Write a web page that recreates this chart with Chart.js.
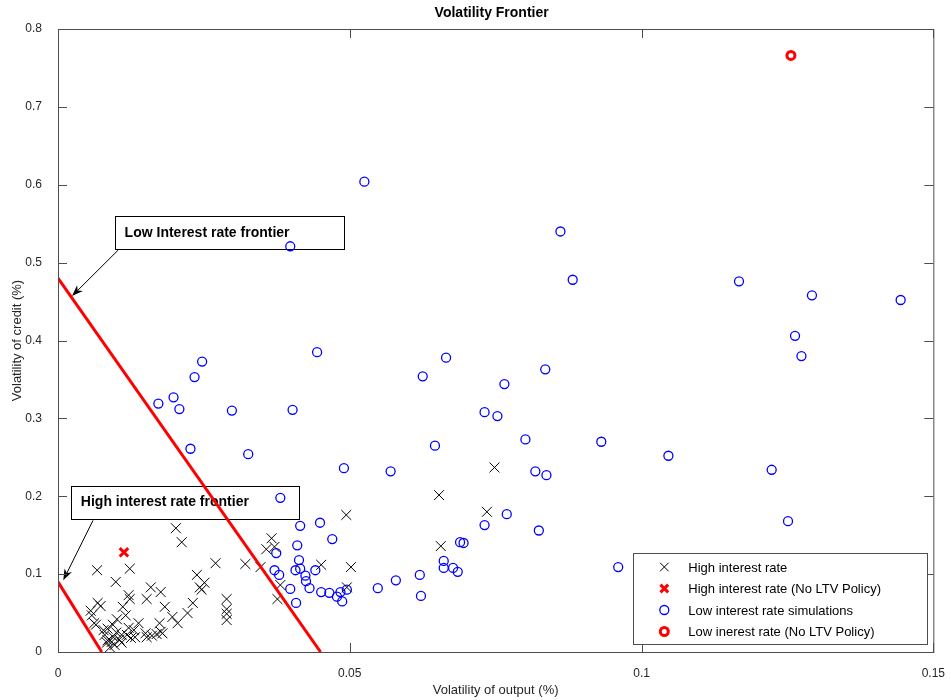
<!DOCTYPE html>
<html>
<head>
<meta charset="utf-8">
<script src="https://cdn.jsdelivr.net/npm/chart.js@4.4.0/dist/chart.umd.min.js"></script>
<style>
   html, body { margin: 0; padding: 0; background: #fff; }
</style>
</head>
<body>
<canvas id="chart" width="951" height="700"></canvas>
<script>

// high interest rate simulations (black x)
const highRateX = [0.0202, 0.0212, 0.0067, 0.0123, 0.0270, 0.0321, 0.0347, 0.0099, 0.0238, 0.0159,
   0.0176, 0.0251, 0.0243, 0.0246, 0.0121, 0.0123, 0.0152, 0.0068, 0.0073, 0.0111,
   0.0183, 0.0231, 0.0222, 0.0289, 0.0289, 0.0289, 0.0289, 0.0056, 0.0058, 0.0116,
   0.0062, 0.0065, 0.0101, 0.0138, 0.0174, 0.0196, 0.0205, 0.0094, 0.0085, 0.0121,
   0.0176, 0.0109, 0.0080, 0.0085, 0.0092, 0.0084, 0.0097, 0.0089, 0.0109, 0.0118,
   0.0125, 0.0132, 0.0152, 0.0161, 0.0169, 0.0179, 0.0357, 0.0366, 0.0371, 0.0381,
   0.0376, 0.0451, 0.0502, 0.0495, 0.0494, 0.0653, 0.0656, 0.0735, 0.0748, 0.0100,
   0.0078, 0.0130, 0.0150, 0.0095, 0.0105];
const highRateY = [0.159, 0.141, 0.105, 0.107, 0.114, 0.113, 0.109, 0.090, 0.099, 0.083,
   0.077, 0.089, 0.083, 0.080, 0.073, 0.068, 0.068, 0.063, 0.059, 0.058,
   0.058, 0.063, 0.050, 0.068, 0.055, 0.049, 0.041, 0.053, 0.047, 0.047,
   0.037, 0.035, 0.042, 0.037, 0.037, 0.045, 0.037, 0.035, 0.030, 0.031,
   0.026, 0.022, 0.022, 0.015, 0.013, 0.012, 0.009, 0.006, 0.012, 0.022,
   0.018, 0.019, 0.019, 0.021, 0.023, 0.024, 0.132, 0.146, 0.135, 0.086,
   0.068, 0.112, 0.109, 0.083, 0.176, 0.2015, 0.136, 0.180, 0.237, 0.025,
   0.028, 0.028, 0.024, 0.019, 0.016];

// high interest rate, no LTV policy (red x)
const highNoLtvX = [0.0113];
const highNoLtvY = [0.128];

// low interest rate simulations (blue circles)
const lowRateX = [0.0398, 0.0525, 0.0861, 0.0882, 0.1167, 0.1292, 0.1444, 0.1263, 0.1274, 0.0444,
   0.0247, 0.0234, 0.0198, 0.0208, 0.0172, 0.0298, 0.0402, 0.0227, 0.0326, 0.0625,
   0.0665, 0.0765, 0.0835, 0.0731, 0.0753, 0.0801, 0.0646, 0.0931, 0.1046, 0.1223,
   0.0570, 0.0490, 0.0818, 0.0837, 0.0769, 0.0824, 0.0731, 0.1251, 0.0960, 0.0381,
   0.0415, 0.0449, 0.0470, 0.0410, 0.0374, 0.0413, 0.0371, 0.0379, 0.0407, 0.0415,
   0.0424, 0.0425, 0.0441, 0.0431, 0.0398, 0.0451, 0.0465, 0.0478, 0.0487, 0.0495,
   0.0484, 0.0408, 0.0548, 0.0579, 0.0620, 0.0622, 0.0661, 0.0661, 0.0677, 0.0685,
   0.0689, 0.0695];
const lowRateY = [0.521, 0.604, 0.540, 0.478, 0.476, 0.458, 0.452, 0.406, 0.380, 0.385,
   0.373, 0.353, 0.327, 0.312, 0.319, 0.310, 0.311, 0.261, 0.254, 0.354,
   0.378, 0.344, 0.363, 0.308, 0.303, 0.273, 0.265, 0.270, 0.252, 0.234,
   0.232, 0.236, 0.232, 0.227, 0.177, 0.156, 0.163, 0.168, 0.109, 0.198,
   0.162, 0.166, 0.145, 0.137, 0.127, 0.118, 0.105, 0.099, 0.105, 0.107,
   0.098, 0.091, 0.105, 0.082, 0.081, 0.077, 0.076, 0.071, 0.065, 0.080,
   0.077, 0.063, 0.082, 0.092, 0.099, 0.072, 0.117, 0.108, 0.108, 0.103,
   0.141, 0.140];

// low interest rate, no LTV policy (red circle)
const lowNoLtvX = [0.1256];
const lowNoLtvY = [0.766];

// frontier lines (end points)
const lowFrontierX = [0, 0.045];
const lowFrontierY = [0.48, 0];
const highFrontierX = [0, 0.0075];
const highFrontierY = [0.09, 0];

const xTicks = [0, 0.05, 0.1, 0.15];
const yTicks = [0, 0.1, 0.2, 0.3, 0.4, 0.5, 0.6, 0.7, 0.8];

const FONT = '"Liberation Sans", Arial, sans-serif';

function toPoints(xs, ys) {
   var pts = [];
   for (var i = 0; i < xs.length; i++) {
      pts.push({ x: xs[i], y: ys[i] });
   }
   return pts;
}

// text boxes with arrows, given in data units
const notes = [
   { text: 'Low Interest rate frontier', box: [0.0097, 0.560, 0.0489, 0.517], from: [0.0103, 0.516], to: [0.0024, 0.457] },
   { text: 'High interest rate frontier', box: [0.0022, 0.213, 0.0413, 0.171], from: [0.0060, 0.169], to: [0.0009, 0.092] }
];

const frame = {
   id: 'frame',
   beforeDatasetsDraw(chart) {
      const { ctx, scales: { x, y } } = chart;
      ctx.save();
      ctx.textBaseline = 'middle';
      notes.forEach(function (n) {
         const l = x.getPixelForValue(n.box[0]), t = y.getPixelForValue(n.box[1]);
         const r = x.getPixelForValue(n.box[2]), b = y.getPixelForValue(n.box[3]);
         ctx.fillStyle = '#fff';
         ctx.fillRect(l, t, r - l, b - t);
         ctx.strokeStyle = '#000';
         ctx.lineWidth = 1;
         ctx.strokeRect(Math.round(l) + 0.5, Math.round(t) + 0.5, Math.round(r - l), Math.round(b - t));
         ctx.fillStyle = '#000';
         ctx.font = 'bold 14px ' + FONT;
         ctx.textAlign = 'left';
         ctx.fillText(n.text, l + 10, (t + b) / 2);

         const x0 = x.getPixelForValue(n.from[0]), y0 = y.getPixelForValue(n.from[1]);
         const x1 = x.getPixelForValue(n.to[0]), y1 = y.getPixelForValue(n.to[1]);
         const ang = Math.atan2(y1 - y0, x1 - x0);
         ctx.beginPath();
         ctx.moveTo(x0, y0);
         ctx.lineTo(x1 - 8 * Math.cos(ang), y1 - 8 * Math.sin(ang));
         ctx.stroke();
         ctx.beginPath();
         ctx.moveTo(x1, y1);
         ctx.lineTo(x1 - 12 * Math.cos(ang - 0.35), y1 - 12 * Math.sin(ang - 0.35));
         ctx.lineTo(x1 - 8 * Math.cos(ang), y1 - 8 * Math.sin(ang));
         ctx.lineTo(x1 - 12 * Math.cos(ang + 0.35), y1 - 12 * Math.sin(ang + 0.35));
         ctx.closePath();
         ctx.fill();
      });
      ctx.restore();
   },
   afterDatasetsDraw(chart) {
      const { ctx, chartArea: a, scales: { x, y } } = chart;
      ctx.save();
      ctx.strokeStyle = '#4d4d4d';
      ctx.lineWidth = 1;
      ctx.strokeRect(a.left + 0.5, a.top + 0.5, a.width, a.height);
      ctx.beginPath();
      x.ticks.forEach(function (t) {
         const px = Math.round(x.getPixelForValue(t.value)) + 0.5;
         ctx.moveTo(px, a.bottom); ctx.lineTo(px, a.bottom - 9);
         ctx.moveTo(px, a.top); ctx.lineTo(px, a.top + 9);
      });
      y.ticks.forEach(function (t) {
         const py = Math.round(y.getPixelForValue(t.value)) + 0.5;
         ctx.moveTo(a.left, py); ctx.lineTo(a.left + 9, py);
         ctx.moveTo(a.right, py); ctx.lineTo(a.right - 9, py);
      });
      ctx.stroke();

      // title over the plot area
      ctx.fillStyle = '#000';
      ctx.font = 'bold 14px ' + FONT;
      ctx.textAlign = 'center';
      ctx.textBaseline = 'middle';
      ctx.fillText('Volatility Frontier', (a.left + a.right) / 2 - 4, 13);
      ctx.restore();
   },
   afterDraw(chart) {
      // legend box in the lower right corner
      const { ctx, chartArea: a } = chart;
      const items = chart.data.datasets.filter(function (d) { return d.inLegend; });
      const w = 294, h = 91;
      const left = a.right - 6 - w, top = a.bottom - 8 - h;
      ctx.save();
      ctx.fillStyle = '#fff';
      ctx.fillRect(left, top, w, h);
      ctx.strokeStyle = '#4d4d4d';
      ctx.lineWidth = 1;
      ctx.strokeRect(Math.round(left) + 0.5, Math.round(top) + 0.5, w, h);
      ctx.font = '13px ' + FONT;
      ctx.textBaseline = 'middle';
      ctx.textAlign = 'left';
      items.forEach(function (d, i) {
         const cy = top + 14 + i * 21.5;
         ctx.strokeStyle = d.borderColor;
         ctx.fillStyle = d.backgroundColor;
         ctx.lineWidth = d.borderWidth;
         Chart.helpers.drawPoint(ctx, { pointStyle: d.pointStyle, radius: d.legendRadius, borderWidth: d.borderWidth, rotation: 0 }, left + 31, cy);
         ctx.fillStyle = '#000';
         ctx.fillText(d.label, left + 55, cy + 1);
      });
      ctx.restore();
   }
};

const config = {
   type: 'scatter',
   data: {
      datasets: [{
         type: 'line',
         data: toPoints(lowFrontierX, lowFrontierY),
         borderColor: '#ff0000',
         borderWidth: 3,
         pointRadius: 0,
         fill: false
      }, {
         type: 'line',
         data: toPoints(highFrontierX, highFrontierY),
         borderColor: '#ff0000',
         borderWidth: 3,
         pointRadius: 0,
         fill: false
      }, {
         label: 'High interest rate',
         inLegend: true,
         legendRadius: 6,
         data: toPoints(highRateX, highRateY),
         pointStyle: 'crossRot',
         pointRadius: 7,
         borderWidth: 1,
         borderColor: '#000000',
         backgroundColor: '#000000'
      }, {
         label: 'High interest rate (No LTV Policy)',
         inLegend: true,
         legendRadius: 5.5,
         data: toPoints(highNoLtvX, highNoLtvY),
         pointStyle: 'crossRot',
         pointRadius: 6,
         borderWidth: 3,
         borderColor: '#ff0000',
         backgroundColor: '#ff0000'
      }, {
         label: 'Low interest rate simulations',
         inLegend: true,
         legendRadius: 4.5,
         data: toPoints(lowRateX, lowRateY),
         pointStyle: 'circle',
         pointRadius: 4.5,
         borderWidth: 1.3,
         borderColor: '#0000ff',
         backgroundColor: 'rgba(0,0,0,0)'
      }, {
         label: 'Low inerest rate (No LTV Policy)',
         inLegend: true,
         legendRadius: 4,
         data: toPoints(lowNoLtvX, lowNoLtvY),
         pointStyle: 'circle',
         pointRadius: 4,
         borderWidth: 3,
         borderColor: '#ff0000',
         backgroundColor: 'rgba(0,0,0,0)'
      }]
   },
   options: {
      responsive: false,
      animation: false,
      layout: { padding: { top: 29, right: 15, left: 0, bottom: 0 } },
      plugins: {
         legend: { display: false },
         title: { display: false },
         tooltip: { enabled: false }
      },
      scales: {
         x: {
            type: 'linear',
            min: 0,
            max: 0.15,
            afterFit: function (scale) { scale.height = 48; },
            afterBuildTicks: function (scale) { scale.ticks = xTicks.map(function (v) { return { value: v }; }); },
            grid: { display: false },
            border: { display: false },
            ticks: {
               padding: 6,
               color: '#262626',
               font: { family: FONT, size: 12 },
               callback: function (value) { return String(value); }
            },
            title: {
               display: true,
               text: 'Volatility of output (%)',
               color: '#262626',
               font: { family: FONT, size: 13 },
               padding: { top: 0, bottom: 2 }
            }
         },
         y: {
            type: 'linear',
            min: 0,
            max: 0.8,
            afterFit: function (scale) { scale.width = 58; },
            afterBuildTicks: function (scale) { scale.ticks = yTicks.map(function (v) { return { value: v }; }); },
            grid: { display: false },
            border: { display: false },
            ticks: {
               padding: 8,
               color: '#262626',
               font: { family: FONT, size: 12 },
               callback: function (value) { return String(value); }
            },
            title: {
               display: true,
               text: 'Volatility of credit (%)',
               color: '#262626',
               font: { family: FONT, size: 13 },
               padding: { top: 10, bottom: 0 }
            }
         }
      }
   },
   plugins: [frame]
};

const myChart = new Chart(document.getElementById('chart'), config);
</script>
</body>
</html>
